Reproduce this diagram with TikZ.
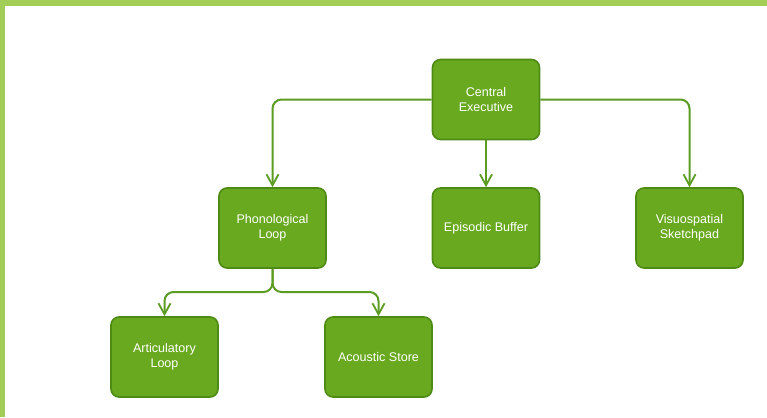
\documentclass[tikz,border=0pt]{standalone}
\usepackage{fontspec}
\setmainfont{Liberation Sans}
\usetikzlibrary{arrows.meta}
\definecolor{boxfill}{HTML}{69A91F}
\definecolor{boxline}{HTML}{4E8B14}
\definecolor{conn}{HTML}{5C9C22}
\definecolor{frame}{HTML}{A2CE58}
\begin{document}
\begin{tikzpicture}[x=1bp,y=-1bp,
  box/.style={draw=boxline, fill=boxfill, line width=1.6bp, rounded corners=8bp,
    minimum width=107bp, minimum height=80bp, align=center, text=white,
    font=\fontsize{12.6}{15}\selectfont, inner sep=2bp},
  conn/.style={draw=conn, line width=2bp, rounded corners=9bp,
    -{Straight Barb[length=11bp,width=12bp,line width=1.8bp]}}]
\fill[frame] (0,0) rectangle (767,417);
\fill[white] (5,6) rectangle (767,417);
\useasboundingbox (0,0) rectangle (767,417);
\node[box] (ce) at (486,99.5) {Central\\Executive};
\node[box] (pl) at (272.5,228) {Phonological\\Loop};
\node[box] (eb) at (486,228) {Episodic Buffer};
\node[box] (vs) at (689.5,228) {Visuospatial\\Sketchpad};
\node[box] (al) at (164.5,357) {Articulatory\\Loop};
\node[box] (as) at (378.5,357) {Acoustic Store};
\coordinate (split) at (272.5,292);
\draw[conn] (ce.west) -| (pl.north);
\draw[conn] (ce.east) -| (vs.north);
\draw[conn] (ce.south) -- (eb.north);
\draw[conn] (pl.south) -- (split) -| (al.north);
\draw[conn] (pl.south) -- (split) -| (as.north);
\end{tikzpicture}
\end{document}
